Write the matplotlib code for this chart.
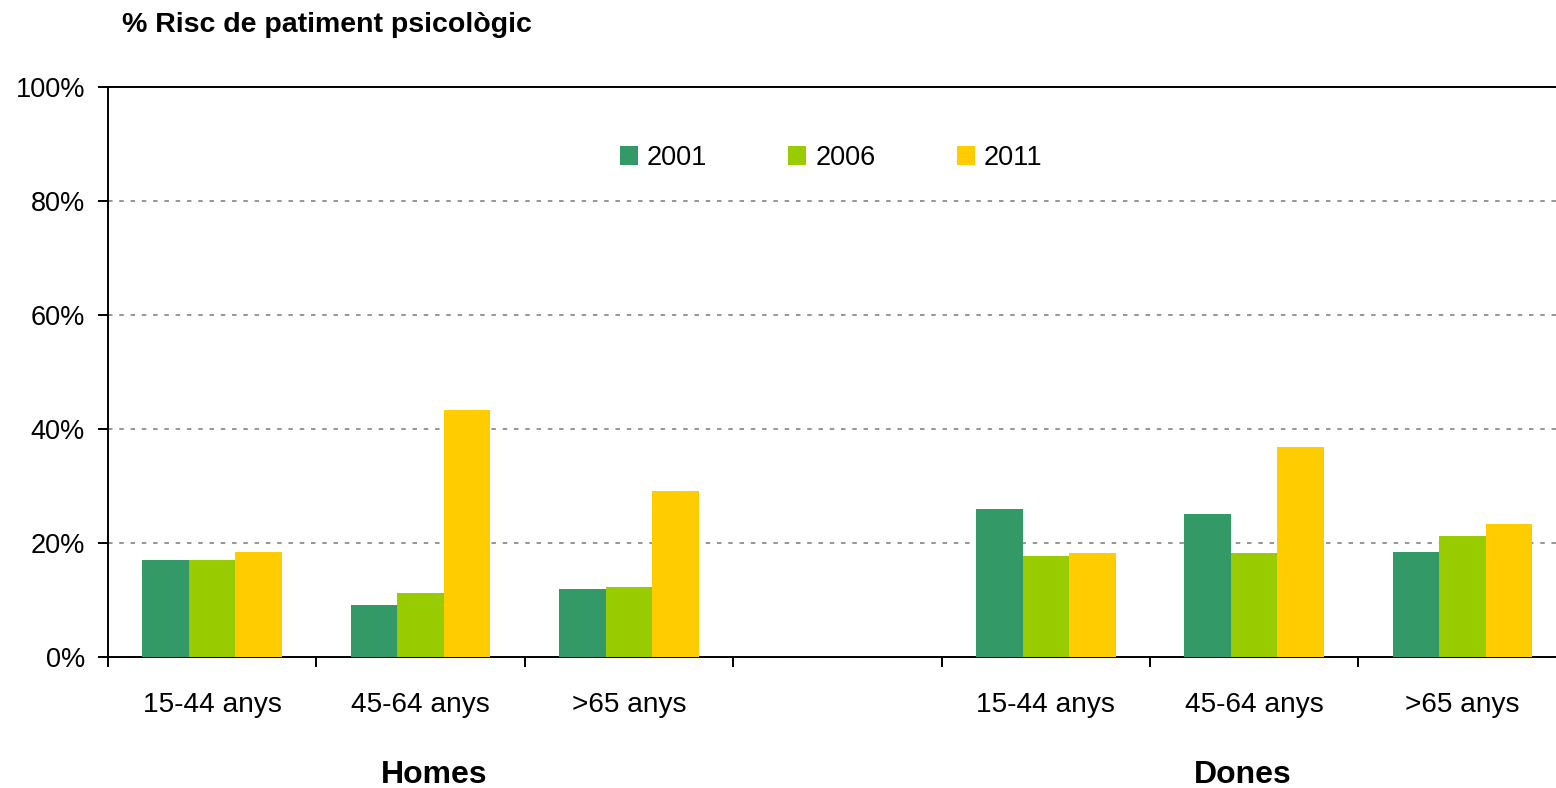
import numpy as np
import matplotlib
matplotlib.use("Agg")
import matplotlib.pyplot as plt
from matplotlib.patches import Patch
import matplotlib.transforms as mtransforms

plt.rcParams['font.family'] = ['Liberation Sans', 'DejaVu Sans']

categories = ["15-44 anys", "45-64 anys", ">65 anys", "", "15-44 anys", "45-64 anys", ">65 anys"]
groups = ["Homes", "Dones"]
years = ["2001", "2006", "2011"]
v2001 = [17.1, 9.15, 12.0, np.nan, 26.0, 25.1, 18.5]
v2006 = [17.1, 11.3, 12.3, np.nan, 17.8, 18.2, 21.2]
v2011 = [18.5, 43.3, 29.2, np.nan, 18.2, 36.8, 23.3]
yticks = [0, 20, 40, 60, 80, 100]
title = "% Risc de patiment psicològic"

colors = ["#339966", "#99CC00", "#FFCC00"]

fig = plt.figure(figsize=(15.56, 7.88), dpi=100)
ax_w = 7 * 208.4
ax = fig.add_axes([108/1556, 1-657/788, ax_w/1556, (657-87)/788])

x = np.arange(len(categories))
w = 0.223
for i, (vals, c) in enumerate(zip([v2001, v2006, v2011], colors)):
    ax.bar(x + (i-1)*w, vals, width=w, color=c, edgecolor='none', zorder=3)

ax.set_xlim(-0.5, len(categories)-0.5)
ax.set_ylim(0, 100)
ax.set_yticks(yticks)
ax.set_yticklabels([f"{t}%" for t in yticks], fontsize=19.5)
ax.yaxis.grid(True, color='#969696', linestyle=(0, (2.3, 3.5)), linewidth=1.4, zorder=0)
ax.set_axisbelow(True)

ax.set_xticks(np.arange(-0.5, len(categories), 1.0))
ax.set_xticklabels([])
ax.set_xticks(x, minor=True)
ax.set_xticklabels(categories, minor=True, fontsize=20.2)
ax.tick_params(axis='x', which='major', direction='out', length=7, width=1.4)
ax.tick_params(axis='x', which='minor', length=0, pad=25)
ax.tick_params(axis='y', direction='out', length=7, width=1.4, pad=9.5)

for s in ['left', 'bottom', 'top']:
    ax.spines[s].set_linewidth(1.4)
    ax.spines[s].set_color('black')
ax.spines['right'].set_visible(False)

trans = mtransforms.blended_transform_factory(ax.transData, ax.transAxes)
ax.text(1.064, -0.207, groups[0], transform=trans, ha='center', va='center',
        fontsize=23, fontweight='bold')
ax.text(4.946, -0.207, groups[1], transform=trans, ha='center', va='center',
        fontsize=23, fontweight='bold')

fig.text(122/1556, 1-25/788, title, ha='left', va='center', fontsize=20.5, fontweight='bold')

handles = [Patch(facecolor=c, edgecolor='none') for c in colors]
ax.legend(handles, years, loc='center', bbox_to_anchor=((831-108)/ax_w, (657-158)/570), ncol=3,
          frameon=False, fontsize=19.5, handlelength=0.67, handleheight=0.67,
          handletextpad=0.33, columnspacing=3.0)

fig.savefig("out.png", dpi=100)
